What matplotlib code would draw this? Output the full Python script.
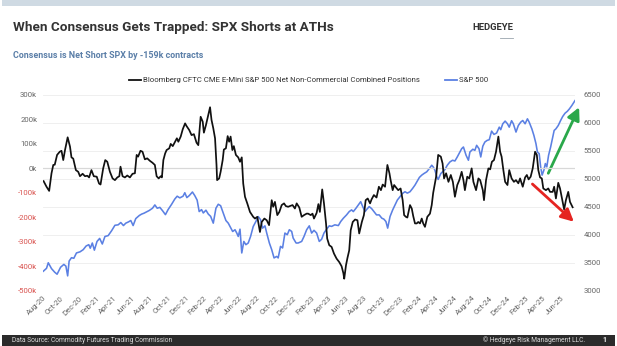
import matplotlib
matplotlib.use("Agg")
import matplotlib.pyplot as plt
import matplotlib.dates as mdates
from matplotlib.lines import Line2D
from matplotlib.patches import Rectangle
import pandas as pd

# ---------------- data ----------------
cftc_dates = [
    "2020-08-04", "2020-08-14", "2020-08-23", "2020-08-31", "2020-09-06", "2020-09-11", "2020-09-19", "2020-09-28",
    "2020-10-04", "2020-10-10", "2020-10-16", "2020-10-25", "2020-11-02", "2020-11-07", "2020-11-13", "2020-11-22",
    "2020-11-30", "2020-12-06", "2020-12-15", "2020-12-23", "2020-12-31",
    "2021-01-06", "2021-01-14", "2021-01-22", "2021-02-01", "2021-02-09", "2021-02-14", "2021-02-23", "2021-03-02",
    "2021-03-09", "2021-03-18", "2021-03-27", "2021-04-04", "2021-04-12", "2021-04-19", "2021-04-23", "2021-04-30",
    "2021-05-08", "2021-05-16", "2021-05-25", "2021-06-03", "2021-06-11", "2021-06-17", "2021-06-22", "2021-06-30",
    "2021-07-07", "2021-07-15", "2021-07-23", "2021-08-01", "2021-08-10", "2021-08-18", "2021-08-24", "2021-08-31",
    "2021-09-07", "2021-09-11", "2021-09-16", "2021-09-22", "2021-09-27", "2021-10-06", "2021-10-11", "2021-10-18",
    "2021-10-26", "2021-11-01", "2021-11-06", "2021-11-14", "2021-11-21", "2021-11-29", "2021-12-04", "2021-12-13",
    "2021-12-21", "2021-12-29",
    "2022-01-07", "2022-01-13", "2022-01-21", "2022-01-28", "2022-02-01", "2022-02-08", "2022-02-16", "2022-02-22",
    "2022-02-27", "2022-03-05", "2022-03-11", "2022-03-16", "2022-03-18", "2022-03-25", "2022-03-30", "2022-04-06",
    "2022-04-10", "2022-04-17", "2022-04-23", "2022-04-28", "2022-05-03", "2022-05-09", "2022-05-14", "2022-05-21",
    "2022-05-29", "2022-06-04", "2022-06-10", "2022-06-15", "2022-06-21", "2022-06-29", "2022-07-08", "2022-07-19",
    "2022-07-25", "2022-08-02", "2022-08-11", "2022-08-17", "2022-08-26", "2022-09-03", "2022-09-11", "2022-09-20",
    "2022-09-25", "2022-10-01", "2022-10-09", "2022-10-16", "2022-10-24", "2022-11-01", "2022-11-07", "2022-11-15",
    "2022-11-21", "2022-11-30", "2022-12-08", "2022-12-14", "2022-12-23", "2022-12-31",
    "2023-01-08", "2023-01-17", "2023-01-22", "2023-01-31", "2023-02-06", "2023-02-11", "2023-02-20", "2023-02-26",
    "2023-03-03", "2023-03-11", "2023-03-17", "2023-03-24", "2023-03-28", "2023-04-04", "2023-04-12", "2023-04-20",
    "2023-04-29", "2023-05-08", "2023-05-16", "2023-05-22", "2023-05-25", "2023-05-31", "2023-06-05", "2023-06-11",
    "2023-06-16", "2023-06-23", "2023-07-01", "2023-07-09", "2023-07-15", "2023-07-24", "2023-07-31", "2023-08-06",
    "2023-08-13", "2023-08-21", "2023-08-26", "2023-09-03", "2023-09-12", "2023-09-20", "2023-09-27", "2023-10-03",
    "2023-10-11", "2023-10-19", "2023-10-26", "2023-10-30", "2023-11-06", "2023-11-11", "2023-11-20", "2023-11-25",
    "2023-12-03", "2023-12-10", "2023-12-15", "2023-12-21", "2023-12-26",
    "2024-01-04", "2024-01-10", "2024-01-15", "2024-01-21", "2024-01-27", "2024-02-01", "2024-02-07", "2024-02-13",
    "2024-02-18", "2024-02-24", "2024-03-03", "2024-03-12", "2024-03-18", "2024-03-23", "2024-04-02", "2024-04-09",
    "2024-04-18", "2024-04-24", "2024-04-29", "2024-05-06", "2024-05-14", "2024-05-22", "2024-05-29", "2024-06-05",
    "2024-06-13", "2024-06-20", "2024-06-28", "2024-07-04", "2024-07-09", "2024-07-17", "2024-07-24", "2024-08-01",
    "2024-08-07", "2024-08-16", "2024-08-24", "2024-08-30", "2024-09-08", "2024-09-12", "2024-09-19", "2024-09-27",
    "2024-10-03", "2024-10-09", "2024-10-16", "2024-10-23", "2024-10-31", "2024-11-06", "2024-11-11", "2024-11-17",
    "2024-11-23", "2024-12-01", "2024-12-07", "2024-12-15", "2024-12-23", "2024-12-30",
    "2025-01-07", "2025-01-13", "2025-01-22", "2025-01-30", "2025-02-05", "2025-02-11", "2025-02-18", "2025-02-25",
    "2025-03-05", "2025-03-11", "2025-03-16", "2025-03-22", "2025-03-28", "2025-04-02", "2025-04-11", "2025-04-19",
    "2025-04-25", "2025-05-04", "2025-05-09", "2025-05-15", "2025-05-23", "2025-05-29", "2025-06-07", "2025-06-12",
    "2025-06-18", "2025-06-26", "2025-07-02", "2025-07-11",
]
cftc_net_k = [
    -52, -75, -92, -20, 14, 15, 55, 68, 72, 34, 75, 127, 89, 45, 40, -7, -14, -32, -22, -32, -30,
    -37, -7, -32, -34, -62, -66, 0, 34, 27, -14, -41, -48, -37, -32, 7, -32, -37, -29, -37, -22,
    -20, 55, 48, 72, 68, 37, 41, 31, 23, 14, -32, -41, -32, -37, 34, 61, 75, 82, 100, 91,
    109, 123, 109, 130, 160, 184, 173, 157, 136, 140,
    105, 95, 211, 191, 146, 177, 218, 250, 198, 164, 123, 14, -48, -41, -14, 34, 77, 82, 132, 109,
    130, 75, 91, 55, 45, 27, 45, -62, -116, -144, -178, -198, -205, -198, -260, -219, -205, -212, -232, -130,
    -157, -137, -191, -178, -150, -143, -154, -157, -154, -150, -164, -143, -160, -198,
    -191, -185, -185, -191, -185, -205, -182, -146, -178, -86, -143, -225, -287, -314, -321, -348, -369, -383, -400, -428,
    -451, -396, -366, -335, -253, -219, -209, -212, -266, -219, -191, -130, -123, -143, -127, -109, -119, -75, -89, -66,
    -75, 14, -20, -48, -89, -68, -82, -89, -82, -130, -191, -198, -201,
    -150, -164, -195, -225, -225, -219, -225, -205, -225, -239, -198, -185, -150, -100, -34, 55, 48, 20, -41, -20,
    -55, -27, -55, -116, -68, -48, -14, -48, -89, -34, -41, 0, -55, -89, -41, -48, -89, -130, -48, 0,
    -4, 27, 34, 68, 130, 68, 48, -7, -55, -68, -7, -41, -55, -48,
    -61, -41, -75, -37, -27, -45, -34, 0, 68, 55, -7, -37, -41, -82, -89, -82, -96, -96, -75, -123,
    -59, -82, -137, -168, -130, -96, -137, -159,
]

spx_dates = [
    "2020-08-03", "2020-08-14", "2020-08-20", "2020-08-31", "2020-09-11", "2020-09-19", "2020-10-01", "2020-10-12",
    "2020-10-19", "2020-10-25", "2020-10-30", "2020-11-07", "2020-11-15", "2020-11-24", "2020-12-06", "2020-12-17",
    "2020-12-27",
    "2021-01-05", "2021-01-10", "2021-01-17", "2021-01-24", "2021-02-02", "2021-02-11", "2021-02-20", "2021-03-01",
    "2021-03-12", "2021-03-24", "2021-04-04", "2021-04-15", "2021-04-24", "2021-05-03", "2021-05-11", "2021-05-20",
    "2021-05-28", "2021-06-05", "2021-06-14", "2021-06-26", "2021-07-04", "2021-07-12", "2021-07-21", "2021-07-30",
    "2021-08-10", "2021-08-18", "2021-08-26", "2021-09-04", "2021-09-13", "2021-09-23", "2021-10-02", "2021-10-14",
    "2021-10-25", "2021-11-02", "2021-11-11", "2021-11-22", "2021-11-28", "2021-12-05", "2021-12-13", "2021-12-24",
    "2022-01-01", "2022-01-09", "2022-01-16", "2022-01-24", "2022-01-30", "2022-02-08", "2022-02-16", "2022-02-24",
    "2022-03-05", "2022-03-14", "2022-03-22", "2022-03-30", "2022-04-08", "2022-04-17", "2022-04-25", "2022-05-01",
    "2022-05-10", "2022-05-18", "2022-05-24", "2022-05-29", "2022-06-04", "2022-06-10", "2022-06-17", "2022-06-24",
    "2022-07-02", "2022-07-10", "2022-07-19", "2022-07-28", "2022-08-05", "2022-08-13", "2022-08-20", "2022-08-28",
    "2022-09-03", "2022-09-12", "2022-09-20", "2022-09-28", "2022-10-07", "2022-10-12", "2022-10-20", "2022-10-27",
    "2022-11-04", "2022-11-12", "2022-11-19", "2022-11-27", "2022-12-02", "2022-12-12", "2022-12-19", "2022-12-31",
    "2023-01-08", "2023-01-17", "2023-01-26", "2023-02-03", "2023-02-11", "2023-02-20", "2023-03-01", "2023-03-09",
    "2023-03-17", "2023-03-26", "2023-04-04", "2023-04-12", "2023-04-23", "2023-05-05", "2023-05-13", "2023-05-22",
    "2023-06-02", "2023-06-11", "2023-06-19", "2023-06-25", "2023-07-04", "2023-07-12", "2023-07-20", "2023-07-27",
    "2023-08-04", "2023-08-09", "2023-08-18", "2023-08-26", "2023-09-03", "2023-09-12", "2023-09-21", "2023-09-30",
    "2023-10-07", "2023-10-14", "2023-10-20", "2023-10-28", "2023-11-06", "2023-11-14", "2023-11-22", "2023-12-01",
    "2023-12-10", "2023-12-18", "2023-12-26",
    "2024-01-04", "2024-01-13", "2024-01-21", "2024-01-29", "2024-02-05", "2024-02-13", "2024-02-21", "2024-03-01",
    "2024-03-10", "2024-03-18", "2024-03-23", "2024-03-29", "2024-04-04", "2024-04-09", "2024-04-18", "2024-04-24",
    "2024-05-02", "2024-05-10", "2024-05-19", "2024-05-28", "2024-06-05", "2024-06-13", "2024-06-20", "2024-06-28",
    "2024-07-04", "2024-07-13", "2024-07-21", "2024-07-26", "2024-08-05", "2024-08-12", "2024-08-18", "2024-08-26",
    "2024-09-01", "2024-09-08", "2024-09-15", "2024-09-23", "2024-09-30", "2024-10-08", "2024-10-16", "2024-10-25",
    "2024-11-03", "2024-11-08", "2024-11-15", "2024-11-23", "2024-12-01", "2024-12-07", "2024-12-15", "2024-12-21",
    "2024-12-30",
    "2025-01-07", "2025-01-15", "2025-01-22", "2025-01-30", "2025-02-07", "2025-02-13", "2025-02-22", "2025-03-01",
    "2025-03-08", "2025-03-13", "2025-03-19", "2025-03-24", "2025-03-29", "2025-04-04", "2025-04-09", "2025-04-14",
    "2025-04-20", "2025-04-27", "2025-05-04", "2025-05-09", "2025-05-15", "2025-05-23", "2025-05-31", "2025-06-07",
    "2025-06-15", "2025-06-23", "2025-06-30", "2025-07-08", "2025-07-13", "2025-07-19",
]
spx_close = [
    3348, 3400, 3500, 3395, 3330, 3295, 3420, 3470, 3440, 3265, 3530, 3590, 3580, 3675, 3695, 3734, 3800,
    3823, 3760, 3853, 3725, 3881, 3935, 3835, 3970, 3985, 4075, 4170, 4178, 4219, 4165, 4208, 4230, 4255, 4165,
    4290, 4345, 4370, 4386, 4410, 4435, 4475, 4534, 4475, 4490, 4432, 4360, 4450, 4545, 4640, 4690, 4660, 4690,
    4752, 4665, 4700, 4765,
    4700, 4620, 4415, 4450, 4390, 4440, 4370, 4330, 4208, 4475, 4546, 4520, 4386, 4255, 4208, 4148, 4059, 4090,
    4031, 3970, 4100, 3675, 3881, 3823, 3853, 3970, 4148, 4237, 4326, 4270, 4119, 4160, 4031, 3853, 3734, 3586,
    3613, 3586, 3793, 3764, 4031, 4001, 4090, 4060, 3942, 3853, 3853, 3881,
    3970, 4090, 4160, 4031, 4080, 4031, 3881, 3920, 4031, 4101, 4160, 4150, 4178, 4165, 4237, 4296, 4356, 4415,
    4445, 4415, 4475, 4534, 4592, 4504, 4415, 4450, 4504, 4470, 4415, 4356, 4356, 4297, 4280, 4237, 4119, 4326,
    4445, 4534, 4622, 4680, 4741, 4770, 4745,
    4770, 4830, 4889, 4962, 5026, 5067, 5097, 5126, 5185, 5244, 5214, 5155, 5040, 4990, 5096, 5126, 5167, 5244,
    5303, 5333, 5320, 5392, 5463, 5540, 5570, 5422, 5333, 5480, 5530, 5510, 5600, 5540, 5392, 5585, 5659, 5689,
    5700, 5854, 5795, 5820, 5925, 5880, 5985, 6033, 5985, 5925, 6040, 5985, 5837,
    5955, 6014, 6044, 5985, 6074, 6014, 5895, 5777, 5630, 5480, 5451, 5214, 5067, 5155, 5274, 5214, 5422, 5570,
    5748, 5866, 5895, 5955, 6044, 6115, 6174, 6209, 6252, 6310, 6351, 6400,
]

left_ticks_k = [300, 200, 100, 0, -100, -200, -300, -400, -500]
right_ticks = [3000, 3500, 4000, 4500, 5000, 5500, 6000, 6500]
x_start, x_end = "2020-08-01", "2025-07-19"

title = "When Consensus Gets Trapped: SPX Shorts at ATHs"
subtitle = "Consensus is Net Short SPX by -159k contracts"
label_cftc = "Bloomberg CFTC CME E-Mini S&P 500 Net Non-Commercial Combined Positions"
label_spx = "S&P 500"

# ---------------- styling ----------------
plt.rcParams["font.family"] = ["Roboto", "DejaVu Sans"]
BLACK = "#111111"
BLUE = "#5b80e3"
GRAY = "#666666"
RED = "#d9534f"
GRID = "#ececec"

W, H = 617, 346
fig = plt.figure(figsize=(W / 100, H / 100), dpi=100)
fig.patch.set_facecolor("white")

ax_l, ax_r, ax_t, ax_b = 42.7, 575, 95, 290.7
ax = fig.add_axes([ax_l / W, 1 - ax_b / H, (ax_r - ax_l) / W, (ax_b - ax_t) / H])
ax2 = ax.twinx()

# put the black series above the blue one
ax.set_zorder(ax2.get_zorder() + 1)
ax.patch.set_visible(False)

d_cftc = pd.to_datetime(cftc_dates)
d_spx = pd.to_datetime(spx_dates)

ax2.plot(d_spx, spx_close, color=BLUE, lw=1.15, solid_joinstyle="round")
ax.plot(d_cftc, cftc_net_k, color=BLACK, lw=1.25, solid_joinstyle="round")
ax.axhline(0, color="#d8d8d8", lw=0.9, zorder=0)

ax.set_xlim(pd.Timestamp(x_start), pd.Timestamp(x_end))
ax.set_ylim(-500, 300)
ax2.set_ylim(3000, 6500)

ax.set_yticks(left_ticks_k)
ax.set_yticklabels([f"{v}k" for v in left_ticks_k])
for lab, v in zip(ax.get_yticklabels(), left_ticks_k):
    lab.set_color(RED if v < 0 else GRAY)
ax2.set_yticks(right_ticks)
ax2.set_yticklabels([str(v) for v in right_ticks], color=GRAY)

ax.xaxis.set_major_locator(mdates.MonthLocator(bymonth=[2, 4, 6, 8, 10, 12]))
ax.xaxis.set_major_formatter(mdates.DateFormatter("%b-%y"))
for lab in ax.get_xticklabels():
    lab.set_rotation(45)
    lab.set_ha("right")
    lab.set_rotation_mode("anchor")
    lab.set_color(GRAY)

ax.tick_params(axis="both", length=0, labelsize=5.6, pad=3)
ax.tick_params(axis="y", pad=4)
ax2.tick_params(axis="y", length=0, labelsize=5.6, pad=6)

# grid drawn on the lower axes (left and right ticks share positions)
ax2.grid(True, color=GRID, lw=0.6)
ax2.xaxis.grid(True, color=GRID, lw=0.6)
ax2.set_axisbelow(True)
for a in (ax, ax2):
    for s in a.spines.values():
        s.set_visible(False)

# legend
handles = [Line2D([], [], color=BLACK, lw=1.3), Line2D([], [], color=BLUE, lw=1.3)]
ax.legend(handles, [label_cftc, label_spx], loc="center", bbox_to_anchor=(0.5, 1 + 15 / (ax_b - ax_t)),
          ncol=2, frameon=False, fontsize=5.6, handlelength=1.5, handletextpad=0.3, columnspacing=3.2,
          labelcolor="#333333", borderaxespad=0)

# arrows
ax2.annotate("", xy=(pd.Timestamp("2025-08-02"), 6280), xytext=(pd.Timestamp("2025-04-19"), 5100),
             arrowprops=dict(arrowstyle="-|>,head_length=0.75,head_width=0.38", color="#2aa84a", lw=2.0,
                             shrinkA=0, shrinkB=0),
             annotation_clip=False)
ax.annotate("", xy=(pd.Timestamp("2025-07-15"), -218), xytext=(pd.Timestamp("2025-02-24"), -64),
            arrowprops=dict(arrowstyle="-|>,head_length=0.75,head_width=0.38", color="#e52421", lw=2.0,
                            shrinkA=0, shrinkB=0),
            annotation_clip=False, zorder=5)

# header
fig.add_artist(Rectangle((2 / W, 1 - 6 / H), 613 / W, 6 / H, transform=fig.transFigure, color="#cfdae3", lw=0))
fig.text(13 / W, 1 - 28 / H, title, fontsize=9.7, fontweight="bold", color="#333333", va="center")
fig.text(513 / W, 1 - 27 / H, "HEDGEYE", fontsize=6.8, fontweight="bold", color="#333333", va="center", ha="right")
fig.add_artist(Line2D([500 / W, 513 / W], [1 - 38 / H] * 2, transform=fig.transFigure, color="#9aa5ad", lw=0.6))
fig.text(13 / W, 1 - 55 / H, subtitle, fontsize=6.4, fontweight="bold", color="#5b7fa8", va="center")

# footer
fig.add_artist(Rectangle((2 / W, 0), 613 / W, 11.5 / H, transform=fig.transFigure, color="#2b2b2b", lw=0))
fig.text(12 / W, 1 - 340.5 / H, "Data Source: Commodity Futures Trading Commission", fontsize=4.75,
         color="#dcdcdc", va="center")
fig.text(585 / W, 1 - 340.5 / H, "\u00a9 Hedgeye Risk Management LLC.", fontsize=4.75, color="#dcdcdc",
         va="center", ha="right")
fig.text(604 / W, 1 - 340.5 / H, "1", fontsize=5, color="#ffffff", va="center", ha="center", fontweight="bold")

fig.savefig("out.png", dpi=100)
